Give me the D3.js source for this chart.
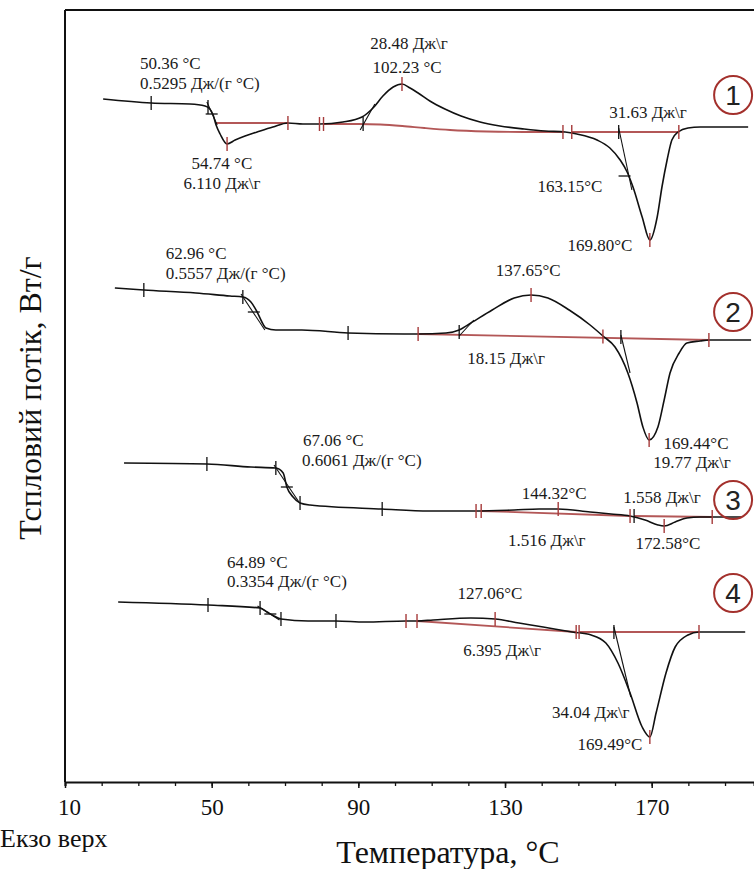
<!DOCTYPE html>
<html><head><meta charset="utf-8">
<script src="https://cdn.jsdelivr.net/npm/d3@7"></script>
<style>body{margin:0;background:#fff}svg{display:block}</style>
</head><body>
<svg id="c" width="754" height="869"></svg>
<script>
// ---------- data (temperature °C, heat flow, arbitrary offset units) ----------
const curve1 = [[20.4,6.83],[33.5,6.79],[44.1,6.78],[48.2,6.76],[49.5,6.73],[50.4,6.67],[51.2,6.57],[52.3,6.48],[54.2,6.38],[56.4,6.42],[59.1,6.46],[62.4,6.50],[66.7,6.55],[70.8,6.59],[74.9,6.58],[79.5,6.58],[85.8,6.60],[91.0,6.65],[94.0,6.74],[96.7,6.86],[99.5,6.95],[101.9,6.98],[104.1,6.94],[106.3,6.89],[109.5,6.81],[113.6,6.73],[118.0,6.66],[123.2,6.60],[128.6,6.56],[135.2,6.53],[140.9,6.51],[146.4,6.50],[149.6,6.48],[155.1,6.42],[158.6,6.34],[161.4,6.22],[163.3,6.10],[164.9,5.95],[167.4,5.65],[169.5,5.42],[171.5,5.65],[172.8,5.95],[174.2,6.22],[175.5,6.42],[177.2,6.50],[179.9,6.54],[183.2,6.55],[196.3,6.55]];
const curve2 = [[23.6,4.94],[31.5,4.92],[45.7,4.89],[55.0,4.86],[58.5,4.85],[60.7,4.80],[62.4,4.70],[63.7,4.60],[64.8,4.54],[67.5,4.52],[74.6,4.52],[87.2,4.49],[102.5,4.48],[106.3,4.48],[113.9,4.49],[117.5,4.52],[120.7,4.59],[126.5,4.72],[132.5,4.84],[137.1,4.87],[141.7,4.84],[147.5,4.72],[153.2,4.57],[156.7,4.46],[160.0,4.35],[163.5,4.09],[166.0,3.79],[167.6,3.55],[169.3,3.42],[171.7,3.55],[173.4,3.82],[175.0,4.09],[177.5,4.29],[179.6,4.39],[183.2,4.41],[185.6,4.42],[197.1,4.42]];
const curve3 = [[26.1,3.19],[48.7,3.18],[60.7,3.15],[67.5,3.14],[69.5,3.09],[70.5,2.95],[72.2,2.85],[74.1,2.79],[76.8,2.77],[96.5,2.73],[109.3,2.71],[122.1,2.71],[132.5,2.72],[139.3,2.73],[144.5,2.73],[153.2,2.70],[158.9,2.68],[164.1,2.66],[168.2,2.62],[171.7,2.57],[173.4,2.56],[176.4,2.60],[179.6,2.64],[183.2,2.65],[186.5,2.65],[194.6,2.65]];
const curve4 = [[24.5,1.80],[49.0,1.77],[63.2,1.74],[65.1,1.70],[67.0,1.66],[68.9,1.63],[76.3,1.61],[83.9,1.61],[91.8,1.60],[103.0,1.61],[106.0,1.61],[110.4,1.62],[120.7,1.64],[127.3,1.63],[133.8,1.59],[140.4,1.55],[148.3,1.50],[153.5,1.47],[157.5,1.39],[160.8,1.19],[164.1,0.89],[167.4,0.55],[169.5,0.45],[171.2,0.69],[173.9,1.09],[176.4,1.35],[179.9,1.47],[182.9,1.50],[195.5,1.50]];

const baselines = [
  [[51.2,6.59],[70.8,6.59]],
  [[80.5,6.58],[90,6.58],[96,6.575],[102,6.56],[108,6.54],[115,6.52],[125,6.505],[135,6.50],[145.8,6.50]],
  [[148.2,6.50],[177.4,6.50]],
  [[106.3,4.48],[185.6,4.42]],
  [[123.5,2.71],[164.1,2.66]],
  [[165.2,2.66],[186.5,2.65]],
  [[106.0,1.61],[149.4,1.50]],
  [[150.2,1.50],[182.9,1.50]]
];
const blackTicks = [[33.5,6.79],[49.0,6.75],[91.3,6.58],[161.0,6.50],
  [31.5,4.92],[58.5,4.85],[87.2,4.49],[117.5,4.50],[161.6,4.45],
  [48.7,3.18],[67.5,3.14],[74.1,2.79],[96.5,2.73],[165.2,2.66],
  [49.0,1.77],[63.2,1.74],[68.9,1.63],[83.9,1.61],[159.7,1.50]];
const redTicks = [[54.2,6.38],[70.8,6.59],[79.4,6.58],[80.5,6.58],[101.9,6.98],[145.8,6.50],[148.2,6.50],[169.5,5.42],[177.4,6.50],
  [106.3,4.48],[137.1,4.87],[156.7,4.455],[169.3,3.42],[185.6,4.42],
  [122.1,2.71],[123.5,2.71],[144.5,2.73],[164.1,2.66],[173.4,2.56],[186.5,2.65],
  [103.0,1.61],[106.0,1.61],[127.3,1.63],[149.4,1.50],[150.2,1.50],[169.5,0.45],[182.9,1.50]];
const tangents = [
  [[48.7,6.80],[51.5,6.57]], [[90.5,6.52],[94.5,6.78]], [[161.0,6.54],[164.6,5.92]],
  [[58.0,4.88],[64.5,4.52]], [[117.5,4.46],[121.5,4.62]], [[161.6,4.47],[164.1,4.09]],
  [[67.0,3.17],[73.8,2.80]],
  [[62.5,1.76],[68.5,1.62]], [[159.7,1.55],[164.3,0.85]]
];
const crosses = [[50.0,6.68],[162.6,6.06],[61.5,4.70],[70.5,2.95],[66.0,1.68]];

const labelText = ["50.36 °C","0.5295 Дж/(г °C)","54.74 °C","6.110 Дж\\г","28.48 Дж\\г","102.23 °C","31.63 Дж\\г","163.15°C","169.80°C",
  "62.96 °C","0.5557 Дж/(г °C)","137.65°C","18.15 Дж\\г","169.44°C","19.77 Дж\\г",
  "67.06 °C","0.6061 Дж/(г °C)","144.32°C","1.558 Дж\\г","1.516 Дж\\г","172.58°C",
  "64.89 °C","0.3354 Дж/(г °C)","127.06°C","6.395 Дж\\г","34.04 Дж\\г","169.49°C"];
const labelT = [30.45,30.45,52.8,52.8,103.8,103.3,169.0,147.7,155.9,
  37.5,37.5,136.3,130.3,182.1,181.0,
  74.9,74.6,143.4,172.8,141.4,174.4,
  54.2,54.2,125.9,129.2,153.4,158.6];
const labelV = [7.13,6.93,6.13,5.93,7.33,7.09,6.64,5.90,5.31,
  5.23,5.03,5.06,4.18,3.33,3.14,
  3.36,3.16,2.83,2.79,2.36,2.33,
  2.14,1.95,1.83,1.26,0.64,0.32];
const labelAnchor = ["start","start","middle","middle","middle","middle","middle","middle","middle",
  "start","start","middle","middle","middle","middle",
  "start","start","middle","middle","middle","middle",
  "start","start","middle","middle","middle","middle"];

const curveNumbers = ["1","2","3","4"];
const curveNumberT = 192.2;
const curveNumberV = [6.87,4.70,2.82,1.89];

const majorTicks = [10,50,90,130,170];
const minorTicks = [10,20,30,40,50,60,70,80,90,100,110,120,130,140,150,160,170,180,190];

// ---------- drawing ----------
const svg = d3.select("#c");
const x = d3.scaleLinear().domain([10,197.9]).range([65,754]);
const y = d3.scaleLinear().domain([0,7.72]).range([782,10]);
const RED = "#a63a3a";
const SERIF = '"Liberation Serif", serif';
const SANS = '"Liberation Sans", sans-serif';

// frame
svg.append("line").attr("x1",x(10)).attr("x2",754).attr("y1",y(7.72)).attr("y2",y(7.72)).attr("stroke","#111").attr("stroke-width",2.2);
svg.append("line").attr("x1",x(10)).attr("x2",x(10)).attr("y1",y(7.72)).attr("y2",y(0)).attr("stroke","#111").attr("stroke-width",2);

// axis
const gMinor = svg.append("g").attr("transform",`translate(0,${y(0)})`)
  .call(d3.axisBottom(x).tickValues(minorTicks).tickSize(4).tickFormat(""));
gMinor.select(".domain").attr("stroke","#111").attr("stroke-width",2);
gMinor.selectAll(".tick line").attr("stroke","#111").attr("stroke-width",1.3);
const gMajor = svg.append("g").attr("transform",`translate(0,${y(0)})`)
  .call(d3.axisBottom(x).tickValues(majorTicks).tickSize(6).tickPadding(11).tickFormat(d3.format("d")));
gMajor.select(".domain").remove();
gMajor.selectAll(".tick line").attr("stroke","#111").attr("stroke-width",1.5);
gMajor.selectAll(".tick text").style("font-family",SERIF).style("font-size","23px").attr("fill","#111")
  .attr("dx",d=>d===10?4:0);

// axis titles
svg.append("text").attr("x",x(10)+383).attr("y",863).attr("text-anchor","middle")
  .style("font-family",SERIF).style("font-size","32px").attr("fill","#111").text("Температура, °C");
svg.append("text").attr("x",0).attr("y",847)
  .style("font-family",SERIF).style("font-size","26px").attr("fill","#111").text("Екзо верх");
svg.append("text").attr("transform","translate(41,398) rotate(-90)").attr("text-anchor","middle")
  .style("font-family",SERIF).style("font-size","32px").attr("fill","#111").text("Тсплoвий потік, Вт/г");

const line = d3.line().x(d=>x(d[0])).y(d=>y(d[1]));
const smooth = d3.line().x(d=>x(d[0])).y(d=>y(d[1])).curve(d3.curveMonotoneX);

// red baselines
svg.append("g").selectAll("path").data(baselines).join("path")
  .attr("d",d=>smooth(d)).attr("fill","none").attr("stroke",RED).attr("stroke-width",1.8).attr("stroke-opacity",0.85);

// curves
svg.append("g").selectAll("path").data([curve1,curve2,curve3,curve4]).join("path")
  .attr("d",d=>smooth(d)).attr("fill","none").attr("stroke","#111").attr("stroke-width",1.6);

// tangents
svg.append("g").selectAll("path").data(tangents).join("path")
  .attr("d",d=>line(d)).attr("fill","none").attr("stroke","#111").attr("stroke-width",1.1);

// ticks on curves
svg.append("g").selectAll("line").data(blackTicks).join("line")
  .attr("x1",d=>x(d[0])).attr("x2",d=>x(d[0])).attr("y1",d=>y(d[1])-7).attr("y2",d=>y(d[1])+7)
  .attr("stroke","#111").attr("stroke-width",1.3);
svg.append("g").selectAll("line").data(redTicks).join("line")
  .attr("x1",d=>x(d[0])).attr("x2",d=>x(d[0])).attr("y1",d=>y(d[1])-7).attr("y2",d=>y(d[1])+7)
  .attr("stroke",RED).attr("stroke-width",1.4);
svg.append("g").selectAll("line").data(crosses).join("line")
  .attr("x1",d=>x(d[0])-6).attr("x2",d=>x(d[0])+6).attr("y1",d=>y(d[1])).attr("y2",d=>y(d[1]))
  .attr("stroke","#111").attr("stroke-width",1.3);

// labels
svg.append("g").selectAll("text").data(labelText).join("text")
  .attr("x",(d,i)=>x(labelT[i])).attr("y",(d,i)=>y(labelV[i]))
  .attr("text-anchor",(d,i)=>labelAnchor[i])
  .style("font-family",SERIF).style("font-size","17px").attr("fill","#1a1a1a").text(d=>d);

// curve numbers
const gn = svg.append("g").selectAll("g").data(curveNumbers).join("g")
  .attr("transform",(d,i)=>`translate(${x(curveNumberT)},${y(curveNumberV[i])})`);
gn.append("circle").attr("r",19).attr("fill","none").attr("stroke","#a3302c").attr("stroke-width",2);
gn.append("text").attr("text-anchor","middle").attr("dy","0.36em")
  .style("font-family",SANS).style("font-size","28px").attr("fill","#222").text(d=>d);
</script></body></html>
